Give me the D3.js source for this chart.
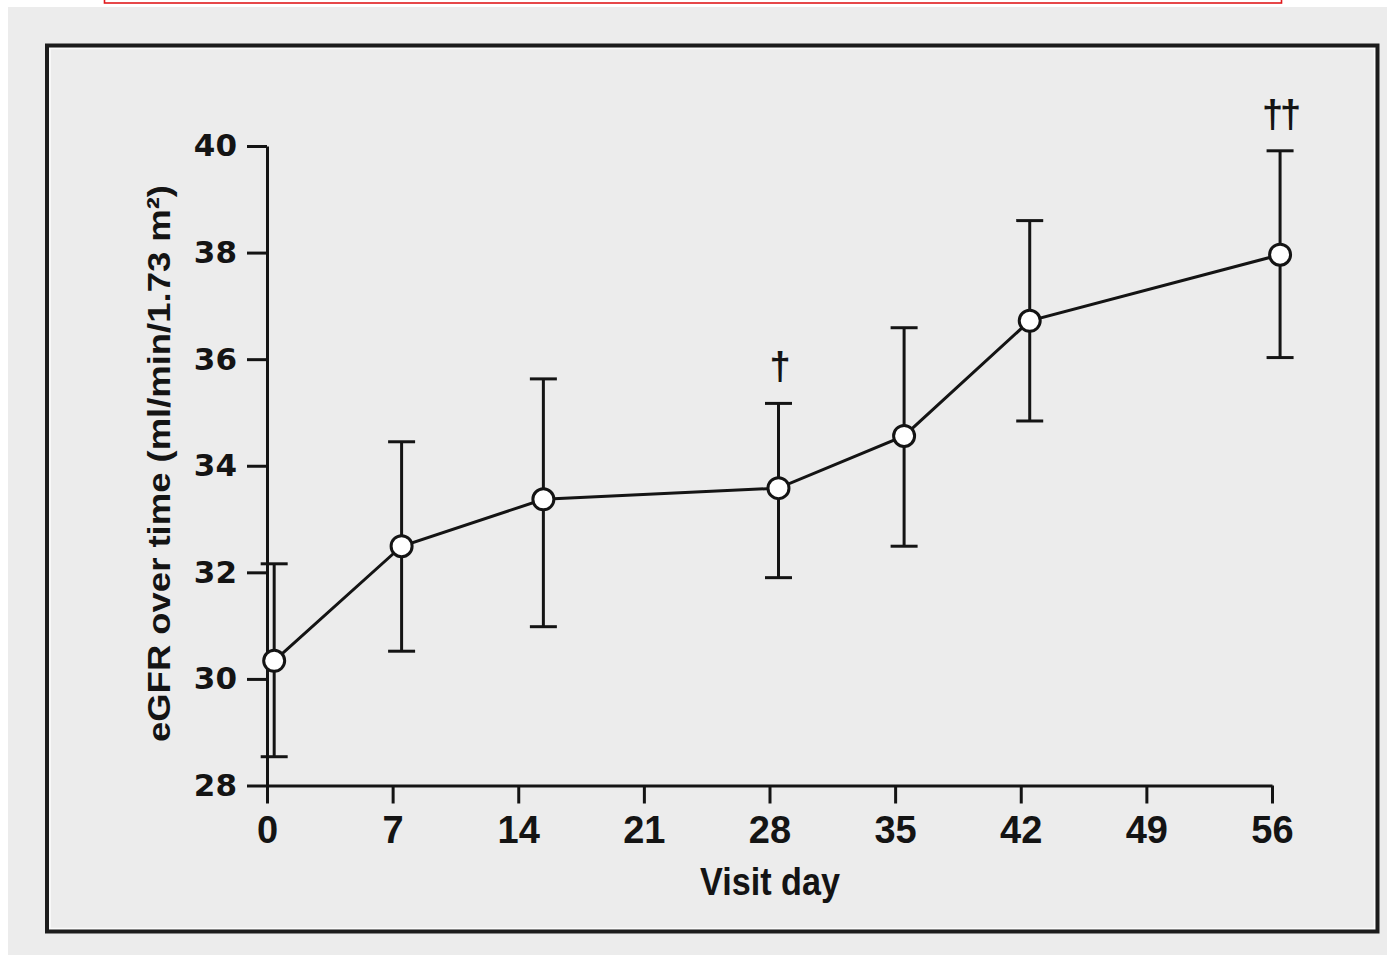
<!DOCTYPE html>
<html>
<head>
<meta charset="utf-8">
<script src="https://cdn.jsdelivr.net/npm/d3@7"></script>
<style>
  html, body { margin: 0; padding: 0; background: #ffffff; }
  svg { display: block; }
</style>
</head>
<body>
<svg id="chart" width="1387" height="955"></svg>
<script>
// Visit day at which each mean was recorded (plotted position)
const visitDays = [0.4, 7.5, 15.4, 28.5, 35.5, 42.5, 56.45];
// Mean eGFR (ml/min/1.73 m²) and the ends of each error bar
const meanEGFR  = [30.34, 32.49, 33.37, 33.58, 34.56, 36.72, 37.96];
const upperEGFR = [32.16, 34.45, 35.63, 35.17, 36.59, 38.60, 39.91];
const lowerEGFR = [28.54, 30.52, 30.98, 31.90, 32.49, 34.84, 36.03];
// Significance marks above the error bars
const markers   = ["", "", "", "\u2020", "", "", "\u2020\u2020"];

const xTicks = [0, 7, 14, 21, 28, 35, 42, 49, 56];
const yTicks = [28, 30, 32, 34, 36, 38, 40];
const xTitle = "Visit day";
const yTitle = "eGFR over time (ml/min/1.73 m\u00B2)";

const ink = "#141414";
const svg = d3.select("#chart");

// Page background and frames
svg.append("rect").attr("x", 8).attr("y", 7).attr("width", 1379).attr("height", 948)
  .attr("fill", "#ececec");
svg.append("rect").attr("x", 104.5).attr("y", -20).attr("width", 1177).attr("height", 23)
  .attr("fill", "none").attr("stroke", "#e0191c").attr("stroke-width", 1.6);
svg.append("rect").attr("x", 50).attr("y", 48.5).attr("width", 1324.5).attr("height", 880)
  .attr("fill", "none").attr("stroke", "#fbfbfb").attr("stroke-width", 1.5);
svg.append("rect").attr("x", 47).attr("y", 45.5).attr("width", 1330.5).attr("height", 886)
  .attr("fill", "none").attr("stroke", "#1c1c1c").attr("stroke-width", 4);

const x = d3.scaleLinear().domain([0, 56]).range([267, 1272]);
const y = d3.scaleLinear().domain([28, 40]).range([785.5, 146]);

const tickFont = "'DejaVu Sans', 'Liberation Sans', sans-serif";
const labelFont = "'Liberation Sans', Arial, sans-serif";

// Y axis
const gy = svg.append("g").attr("transform", `translate(${x(0)},0)`)
  .call(d3.axisLeft(y).tickValues(yTicks).tickSize(20).tickSizeOuter(0).tickPadding(10));
gy.select(".domain").attr("stroke", ink).attr("stroke-width", 3);
gy.selectAll(".tick line").attr("stroke", ink).attr("stroke-width", 3);
gy.selectAll(".tick text").attr("font-family", tickFont).attr("font-size", 31)
  .attr("font-weight", "bold").attr("fill", ink);

// X axis
const gx = svg.append("g").attr("transform", `translate(0,${y(28)})`)
  .call(d3.axisBottom(x).tickValues(xTicks).tickSize(18).tickSizeOuter(0).tickPadding(13));
gx.select(".domain").attr("stroke", ink).attr("stroke-width", 3);
gx.selectAll(".tick line").attr("stroke", ink).attr("stroke-width", 3);
gx.selectAll(".tick text").attr("font-family", labelFont).attr("font-size", 38)
  .attr("font-weight", "bold").attr("fill", ink);

// Axis titles
svg.append("text").attr("x", 770).attr("y", 895).attr("text-anchor", "middle")
  .attr("font-family", labelFont).attr("font-size", 39).attr("font-weight", "bold")
  .attr("fill", ink)
  .attr("textLength", 140).attr("lengthAdjust", "spacingAndGlyphs")
  .text(xTitle);
svg.append("text")
  .attr("transform", "translate(170,463.5) rotate(-90)")
  .attr("text-anchor", "middle")
  .attr("font-family", labelFont).attr("font-size", 32).attr("font-weight", "bold")
  .attr("fill", ink)
  .attr("textLength", 557).attr("lengthAdjust", "spacingAndGlyphs")
  .text(yTitle);

const rows = visitDays.map((d, i) => ({
  day: d, mean: meanEGFR[i], hi: upperEGFR[i], lo: lowerEGFR[i], mark: markers[i]
}));

// Error bars
const eb = svg.append("g").attr("stroke", ink).attr("stroke-width", 3).attr("fill", "none");
rows.forEach(r => {
  eb.append("line").attr("x1", x(r.day)).attr("x2", x(r.day)).attr("y1", y(r.hi)).attr("y2", y(r.lo));
  [r.hi, r.lo].forEach(v => {
    eb.append("line").attr("x1", x(r.day) - 13.5).attr("x2", x(r.day) + 13.5)
      .attr("y1", y(v)).attr("y2", y(v));
  });
});

// Mean trajectory
svg.append("path").datum(rows)
  .attr("d", d3.line().x(r => x(r.day)).y(r => y(r.mean)))
  .attr("fill", "none").attr("stroke", ink).attr("stroke-width", 3);

// Markers
svg.append("g").selectAll("circle").data(rows).join("circle")
  .attr("cx", r => x(r.day)).attr("cy", r => y(r.mean)).attr("r", 10.5)
  .attr("fill", "#ffffff").attr("stroke", ink).attr("stroke-width", 3);

// Significance symbols
svg.append("g").selectAll("text").data(rows.filter(r => r.mark)).join("text")
  .attr("x", r => x(r.day)).attr("y", r => y(r.hi) - 24)
  .attr("text-anchor", "middle")
  .attr("font-family", labelFont).attr("font-size", 38).attr("font-weight", "bold")
  .attr("letter-spacing", -3)
  .attr("fill", ink)
  .text(r => r.mark);
</script>
</body>
</html>
